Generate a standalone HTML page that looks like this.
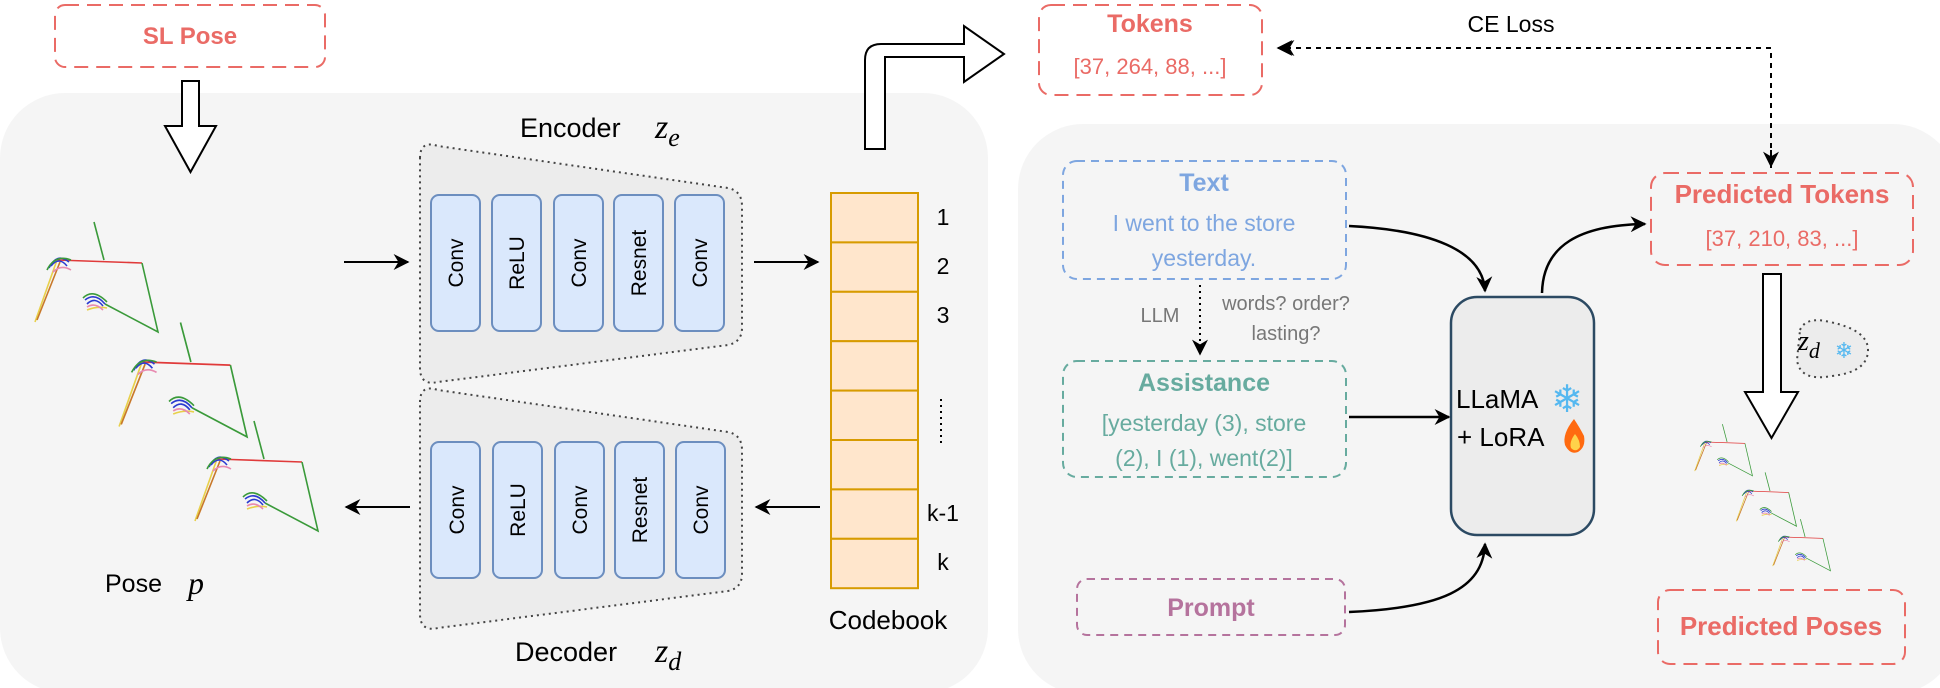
<!DOCTYPE html>
<html><head><meta charset="utf-8"><style>
html,body{margin:0;padding:0;background:#fff;}
svg{display:block;}
text{font-family:"Liberation Sans",Arial,sans-serif;}
text.m{font-family:"Liberation Serif",serif;font-style:italic;}
</style></head><body>
<svg width="1940" height="688" viewBox="0 0 1940 688" xmlns="http://www.w3.org/2000/svg">
<defs>
<marker id="ahs" viewBox="0 0 10 10" refX="9" refY="5" markerWidth="16" markerHeight="16" orient="auto" markerUnits="userSpaceOnUse"><path d="M0,0 L10,5 L0,10 L3,5 Z" fill="#000"/></marker>
<g id="fig" fill="none" stroke-width="1.6">
 <path d="M37,-38 L47,0" stroke="#3a9a3a"/>
 <path d="M0,0 L85,3" stroke="#e03a3a"/>
 <path d="M85,3 L101,72 L48,44" stroke="#3a9a3a"/>
 <path d="M0,0 L-22,62" stroke="#e8d04a"/>
 <path d="M3,2 L-20,60" stroke="#c8782a"/>
 <path d="M-8,8 Q0,-8 12,2 M-6,6 Q2,-4 10,6" stroke="#2a3ad0"/>
 <path d="M-10,10 Q-2,-6 14,0" stroke="#3a9a3a"/>
 <path d="M-4,12 Q4,4 14,10" stroke="#e88ab0"/>
 <path d="M28,40 Q38,32 48,44 M30,44 Q38,36 46,46" stroke="#2a3ad0"/>
 <path d="M26,38 Q36,28 50,42" stroke="#3a9a3a"/>
 <path d="M30,50 Q40,46 50,48" stroke="#e8d04a"/>
 <path d="M30,47 Q38,42 46,50" stroke="#e88ab0"/>
</g>
</defs>

<rect x="0" y="93" width="988" height="600" rx="65" fill="#f5f5f5"/>
<rect x="1018" y="124" width="940" height="570" rx="65" fill="#f5f5f5"/>

<rect x="55" y="5" width="270" height="62" rx="10" fill="none" stroke="#EA6B66" stroke-width="2" stroke-dasharray="14,8"/>
<text x="190" y="44" font-size="24" font-weight="bold" fill="#EA6B66" text-anchor="middle">SL Pose</text>
<path d="M182,81 L199,81 L199,126 L216,126 L190.5,172 L165,126 L182,126 Z" fill="#fff" stroke="#000" stroke-width="2"/>

<use href="#fig" transform="translate(57,260)"/>
<use href="#fig" transform="translate(142,362) scale(1.04)"/>
<use href="#fig" transform="translate(217,459)"/>
<text x="105" y="592" font-size="25" fill="#000">Pose</text>
<text class="m" x="188" y="594" font-size="32" fill="#000">p</text>

<line x1="344" y1="262" x2="408" y2="262" stroke="#000" stroke-width="2" marker-end="url(#ahs)"/>
<line x1="410" y1="507" x2="346" y2="507" stroke="#000" stroke-width="2" marker-end="url(#ahs)"/>
<line x1="754" y1="262" x2="818" y2="262" stroke="#000" stroke-width="2" marker-end="url(#ahs)"/>
<line x1="820" y1="507" x2="756" y2="507" stroke="#000" stroke-width="2" marker-end="url(#ahs)"/>

<path d="M420,158 Q420,140 438,146 L728,188 Q742,191 742,206 L742,328 Q742,342 728,345 L438,382 Q420,386 420,368 Z" fill="#ececec" stroke="#444" stroke-width="2" stroke-dasharray="2,4"/>
<text x="520" y="137" font-size="27" fill="#000">Encoder</text>
<text class="m" x="655" y="138" font-size="34">z<tspan font-size="26" dy="8">e</tspan></text>
<g fill="#dae8fc" stroke="#6c8ebf" stroke-width="2">
<rect x="431" y="195" width="49" height="136" rx="8"/>
<rect x="492" y="195" width="49" height="136" rx="8"/>
<rect x="554" y="195" width="49" height="136" rx="8"/>
<rect x="614" y="195" width="49" height="136" rx="8"/>
<rect x="675" y="195" width="49" height="136" rx="8"/>
</g>
<g font-size="21" fill="#000" text-anchor="middle">
<text transform="translate(463,263) rotate(-90)">Conv</text>
<text transform="translate(524,263) rotate(-90)">ReLU</text>
<text transform="translate(586,263) rotate(-90)">Conv</text>
<text transform="translate(646,263) rotate(-90)">Resnet</text>
<text transform="translate(707,263) rotate(-90)">Conv</text>
</g>

<path d="M420,402 Q420,384 438,390 L728,432 Q742,435 742,450 L742,574 Q742,588 728,591 L438,628 Q420,632 420,614 Z" fill="#ececec" stroke="#444" stroke-width="2" stroke-dasharray="2,4"/>
<text x="515" y="661" font-size="27" fill="#000">Decoder</text>
<text class="m" x="655" y="662" font-size="34">z<tspan font-size="26" dy="8">d</tspan></text>
<g fill="#dae8fc" stroke="#6c8ebf" stroke-width="2">
<rect x="431" y="442" width="49" height="136" rx="8"/>
<rect x="493" y="442" width="49" height="136" rx="8"/>
<rect x="555" y="442" width="49" height="136" rx="8"/>
<rect x="615" y="442" width="49" height="136" rx="8"/>
<rect x="676" y="442" width="49" height="136" rx="8"/>
</g>
<g font-size="21" fill="#000" text-anchor="middle">
<text transform="translate(464,510) rotate(-90)">Conv</text>
<text transform="translate(525,510) rotate(-90)">ReLU</text>
<text transform="translate(587,510) rotate(-90)">Conv</text>
<text transform="translate(647,510) rotate(-90)">Resnet</text>
<text transform="translate(708,510) rotate(-90)">Conv</text>
</g>

<g fill="#ffe6cc" stroke="#d79b00" stroke-width="2">
<rect x="831" y="193" width="87" height="49.4"/>
<rect x="831" y="242.4" width="87" height="49.4"/>
<rect x="831" y="291.8" width="87" height="49.4"/>
<rect x="831" y="341.2" width="87" height="49.4"/>
<rect x="831" y="390.6" width="87" height="49.4"/>
<rect x="831" y="440" width="87" height="49.4"/>
<rect x="831" y="489.4" width="87" height="49.4"/>
<rect x="831" y="538.8" width="87" height="49.4"/>
</g>
<g font-size="23" fill="#000" text-anchor="middle">
<text x="943" y="225">1</text>
<text x="943" y="274">2</text>
<text x="943" y="323">3</text>
<text x="943" y="521">k-1</text>
<text x="943" y="570">k</text>
</g>
<line x1="941" y1="399" x2="941" y2="444" stroke="#000" stroke-width="2" stroke-dasharray="2,4"/>
<text x="888" y="629" font-size="26" text-anchor="middle" fill="#000">Codebook</text>

<path d="M865,149 L865,60 Q865,44 881,44 L964,44 L964,26 L1004,54 L964,82 L964,57 L885,57 L885,149 Z" fill="#fff" stroke="#000" stroke-width="2"/>

<rect x="1039" y="5" width="223" height="90" rx="12" fill="none" stroke="#EA6B66" stroke-width="2" stroke-dasharray="14,8"/>
<text x="1150" y="32" font-size="25" font-weight="bold" fill="#EA6B66" text-anchor="middle">Tokens</text>
<text x="1150" y="74" font-size="22" fill="#EA6B66" text-anchor="middle">[37, 264, 88, ...]</text>

<text x="1511" y="32" font-size="23" fill="#000" text-anchor="middle">CE Loss</text>
<path d="M1771,168 L1771,48 L1280,48" fill="none" stroke="#000" stroke-width="2" stroke-dasharray="5,5" marker-end="url(#ahs)"/>
<path d="M1771,150 L1771,166" stroke="#000" stroke-width="2" marker-end="url(#ahs)"/>
<path d="M1290,48 L1278,48" stroke="#000" stroke-width="2" marker-end="url(#ahs)"/>

<rect x="1063" y="161" width="283" height="118" rx="14" fill="none" stroke="#7EA6E0" stroke-width="2" stroke-dasharray="8,6"/>
<text x="1204" y="191" font-size="25" font-weight="bold" fill="#7EA6E0" text-anchor="middle">Text</text>
<text x="1204" y="231" font-size="23" fill="#7EA6E0" text-anchor="middle">I went to the store</text>
<text x="1204" y="266" font-size="23" fill="#7EA6E0" text-anchor="middle">yesterday.</text>

<line x1="1200" y1="285" x2="1200" y2="354" stroke="#000" stroke-width="2" stroke-dasharray="2,4" marker-end="url(#ahs)"/>
<text x="1160" y="322" font-size="20" fill="#777" text-anchor="middle">LLM</text>
<text x="1286" y="310" font-size="20" fill="#777" text-anchor="middle">words? order?</text>
<text x="1286" y="340" font-size="20" fill="#777" text-anchor="middle">lasting?</text>

<rect x="1063" y="361" width="283" height="116" rx="14" fill="none" stroke="#67AB9F" stroke-width="2" stroke-dasharray="8,6"/>
<text x="1204" y="391" font-size="25" font-weight="bold" fill="#67AB9F" text-anchor="middle">Assistance</text>
<text x="1204" y="431" font-size="23" fill="#67AB9F" text-anchor="middle">[yesterday (3), store</text>
<text x="1204" y="466" font-size="23" fill="#67AB9F" text-anchor="middle">(2), I (1), went(2)]</text>

<rect x="1077" y="579" width="268" height="56" rx="10" fill="none" stroke="#B5739D" stroke-width="2" stroke-dasharray="8,6"/>
<text x="1211" y="616" font-size="25" font-weight="bold" fill="#B5739D" text-anchor="middle">Prompt</text>

<rect x="1451" y="297" width="143" height="238" rx="26" fill="#ececec" stroke="#2c4a63" stroke-width="2.5"/>
<text x="1456" y="408" font-size="26" fill="#000">LLaMA</text>
<text x="1567" y="412" font-size="38" fill="#55b8f0" text-anchor="middle">❄</text>
<text x="1457" y="446" font-size="26" fill="#000">+ LoRA</text>
<path d="M1574,419 Q1562,434 1565,445 Q1570,455 1578,452 Q1586,447 1584,436 Q1580,428 1574,419 Z" fill="#ff6a10"/>
<path d="M1575,434 Q1569,442 1571,448 Q1576,453 1580,447 Q1580,440 1575,434 Z" fill="#ffd24a"/>

<path d="M1349,226 C1430,230 1483,250 1485,291" fill="none" stroke="#000" stroke-width="2.5" marker-end="url(#ahs)"/>
<line x1="1349" y1="417" x2="1449" y2="417" stroke="#000" stroke-width="2.5" marker-end="url(#ahs)"/>
<path d="M1349,612 C1440,608 1483,590 1485,544" fill="none" stroke="#000" stroke-width="2.5" marker-end="url(#ahs)"/>
<path d="M1542,293 C1543,245 1580,225 1645,224" fill="none" stroke="#000" stroke-width="2.5" marker-end="url(#ahs)"/>

<rect x="1651" y="173" width="262" height="92" rx="14" fill="none" stroke="#EA6B66" stroke-width="2" stroke-dasharray="14,8"/>
<text x="1782" y="203" font-size="26" font-weight="bold" fill="#EA6B66" text-anchor="middle">Predicted Tokens</text>
<text x="1782" y="246" font-size="22" fill="#EA6B66" text-anchor="middle">[37, 210, 83, ...]</text>

<path d="M1763,274 L1781,274 L1781,392 L1798,392 L1771.5,438 L1745,392 L1763,392 Z" fill="#fff" stroke="#000" stroke-width="2"/>

<path d="M1800,330 Q1806,316 1830,322 Q1868,330 1868,350 Q1868,372 1832,376 Q1800,382 1797,360 Z" fill="#ececec" stroke="#444" stroke-width="2" stroke-dasharray="2,4"/>
<text class="m" x="1798" y="350" font-size="28">z<tspan font-size="22" dy="8">d</tspan></text>
<text x="1844" y="358" font-size="22" fill="#55b8f0" text-anchor="middle">❄</text>

<use href="#fig" transform="translate(1705,442) scale(0.47)"/>
<use href="#fig" transform="translate(1747,491) scale(0.49)"/>
<use href="#fig" transform="translate(1783,537) scale(0.47)"/>

<rect x="1658" y="590" width="247" height="74" rx="12" fill="none" stroke="#EA6B66" stroke-width="2" stroke-dasharray="14,8"/>
<text x="1781" y="635" font-size="26" font-weight="bold" fill="#EA6B66" text-anchor="middle">Predicted Poses</text>
</svg>
</body></html>
